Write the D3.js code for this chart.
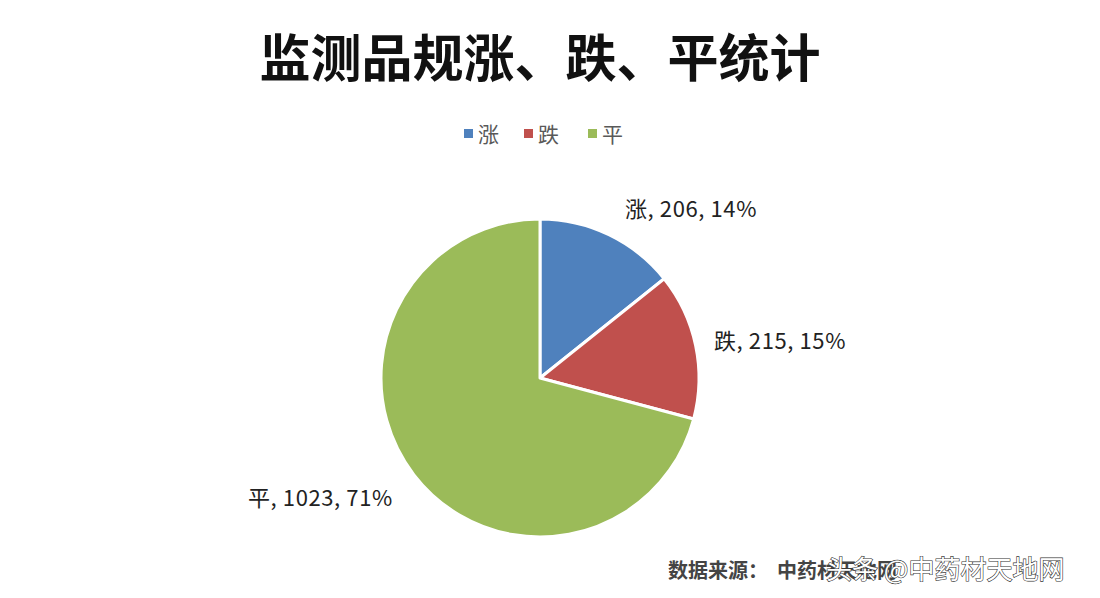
<!DOCTYPE html>
<html><head><meta charset="utf-8">
<script src="https://cdn.jsdelivr.net/npm/d3@7/dist/d3.min.js"></script>
<style>body{margin:0;background:#fff;}svg{display:block;}</style>
</head><body>
<svg id="chart" width="1100" height="598"></svg>
<script>
const categories = ["涨", "跌", "平"];
const values = [206, 215, 1023];
const percents = ["14%", "15%", "71%"];
const colors = ["#4F81BD", "#C0504D", "#9BBB59"];
const titleText = "监测品规涨、跌、平统计";
const sourceText = "数据来源：  中药材天地网";
const watermarkText = "头条 @中药材天地网";

const svg = d3.select("#chart");
const W = 1100, H = 598;
const cx = 540, cy = 378, R = 159;
const font = "'Noto Sans CJK SC', 'Noto Sans', sans-serif";

svg.append("rect").attr("width", W).attr("height", H).attr("fill", "#fff");

svg.append("text").attr("x", 540).attr("y", 77)
  .attr("text-anchor", "middle").attr("font-family", font)
  .attr("font-weight", 700).attr("font-size", 51).attr("fill", "#111")
  .text(titleText);

// legend
const legendX = [464, 524, 588];
const lg = svg.append("g");
categories.forEach((c, i) => {
  lg.append("rect").attr("x", legendX[i]).attr("y", 129).attr("width", 9).attr("height", 9).attr("fill", colors[i]);
  lg.append("text").attr("x", legendX[i] + 14).attr("y", 142)
    .attr("font-family", font).attr("font-size", 21).attr("fill", "#595959").text(c);
});

const pie = d3.pie().sort(null).value(d => d)(values);
const arc = d3.arc().innerRadius(0).outerRadius(R);
const g = svg.append("g").attr("transform", `translate(${cx},${cy})`);
g.selectAll("path").data(pie).join("path")
  .attr("d", arc).attr("fill", (d, i) => colors[i])
  .attr("stroke", "#fff").attr("stroke-width", 3).attr("stroke-linejoin", "round");

// labels
const labelPos = [[625, 217], [714, 349], [248, 506]];
categories.forEach((c, i) => {
  svg.append("text").attr("x", labelPos[i][0]).attr("y", labelPos[i][1])
    .attr("font-family", font).attr("font-size", 22).attr("letter-spacing", 0.6).attr("fill", "#222")
    .text(`${c}, ${values[i]}, ${percents[i]}`);
});

svg.append("text").attr("x", 668).attr("y", 578)
  .attr("font-family", font).attr("font-weight", 700).attr("font-size", 20).attr("fill", "#444")
  .attr("xml:space", "preserve").style("white-space", "pre")
  .text(sourceText);

svg.append("text").attr("x", 826).attr("y", 579)
  .attr("font-family", font).attr("font-size", 26).attr("fill", "#fff")
  .attr("stroke", "#333").attr("stroke-width", 1.2).attr("paint-order", "stroke")
  .text(watermarkText);
</script>
</body></html>
